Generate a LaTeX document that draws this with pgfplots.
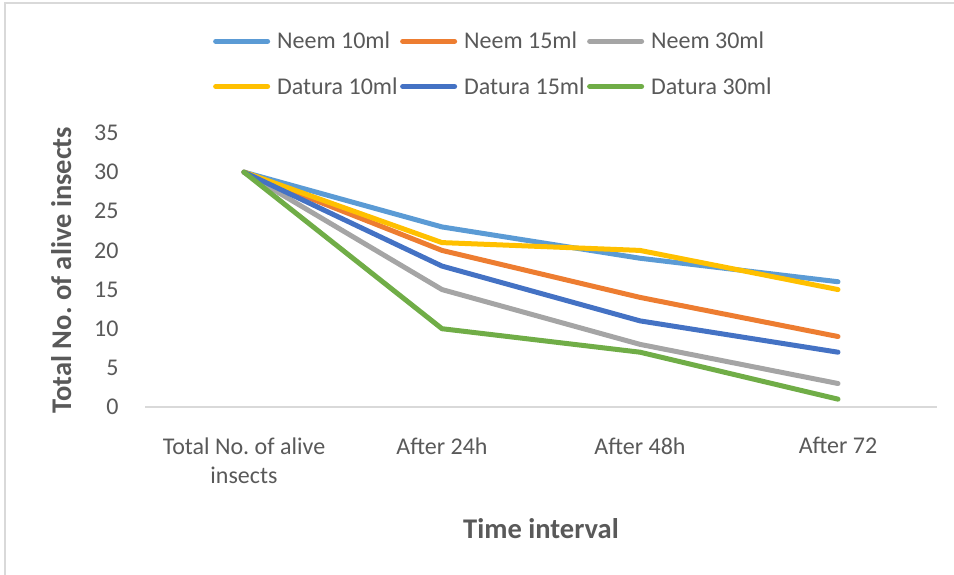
\documentclass[border=0pt]{standalone}
\usepackage{pgfplots}
\pgfplotsset{compat=1.18}
\usepackage{fontspec}
\setmainfont{Carlito}
\frenchspacing

\definecolor{neemA}{HTML}{5B9BD5}
\definecolor{neemB}{HTML}{ED7D31}
\definecolor{neemC}{HTML}{A5A5A5}
\definecolor{datA}{HTML}{FFC000}
\definecolor{datB}{HTML}{4472C4}
\definecolor{datC}{HTML}{70AD47}
\definecolor{txt}{HTML}{595959}
\definecolor{frame}{HTML}{D9D9D9}

\newcommand{\entry}[1]{\makebox[124pt][l]{\hspace{5pt}#1}}

\begin{document}
\begin{tikzpicture}[x=1pt,y=1pt]
\useasboundingbox (0,0) rectangle (954,575);
\draw[frame, line width=1.5pt] (5,-5) -- (5,572) -- (960,572);
\begin{axis}[
    at={(145pt,168pt)}, anchor=south west,
    scale only axis,
    width=792pt, height=274pt,
    xmin=-0.5, xmax=3.5,
    ymin=0, ymax=35,
    xtick={0,1,2,3},
    xticklabels={Total No. of alive\\insects, After 24h, After 48h, After 72},
    ytick={0,5,...,35},
    /pgf/number format/assume math mode=true,
    axis x line*=bottom, axis y line*=left,
    x axis line style={draw=frame, line width=1.5pt, -},
    y axis line style={draw=none},
    major tick length=0pt,
    tick label style={font=\fontsize{24}{29}\selectfont, text=txt},
    x tick label style={align=center, yshift=-27pt},
    y tick label style={xshift=-23pt},
    xlabel={Time interval},
    ylabel={Total No. of alive insects},
    label style={font=\fontsize{28.5}{34}\selectfont\bfseries, text=txt},
    xlabel style={yshift=-28pt},
    ylabel style={yshift=16pt},
    every axis plot/.append style={line width=5pt, line join=round, line cap=round},
    legend columns=3,
    legend style={
        at={(0.082,1.383)}, anchor=north west, draw=none, fill=none,
        font=\fontsize{24}{29}\selectfont, text=txt,
        /tikz/every even column/.append style={column sep=2pt},
        row sep=23pt,
    },
    legend cell align=left,
    legend image code/.code={\draw[#1, line width=5pt] (0pt,0pt) -- (52pt,0pt);},
]
\addplot[neemA] coordinates {(0,30) (1,23) (2,19) (3,16)};
\addlegendentry{\entry{Neem 10ml}}
\addplot[neemB] coordinates {(0,30) (1,20) (2,14) (3,9)};
\addlegendentry{\entry{Neem 15ml}}
\addplot[neemC] coordinates {(0,30) (1,15) (2,8) (3,3)};
\addlegendentry{\entry{Neem 30ml}}
\addplot[datA] coordinates {(0,30) (1,21) (2,20) (3,15)};
\addlegendentry{\entry{Datura 10ml}}
\addplot[datB] coordinates {(0,30) (1,18) (2,11) (3,7)};
\addlegendentry{\entry{Datura 15ml}}
\addplot[datC] coordinates {(0,30) (1,10) (2,7) (3,1)};
\addlegendentry{\entry{Datura 30ml}}
\end{axis}
\end{tikzpicture}
\end{document}
